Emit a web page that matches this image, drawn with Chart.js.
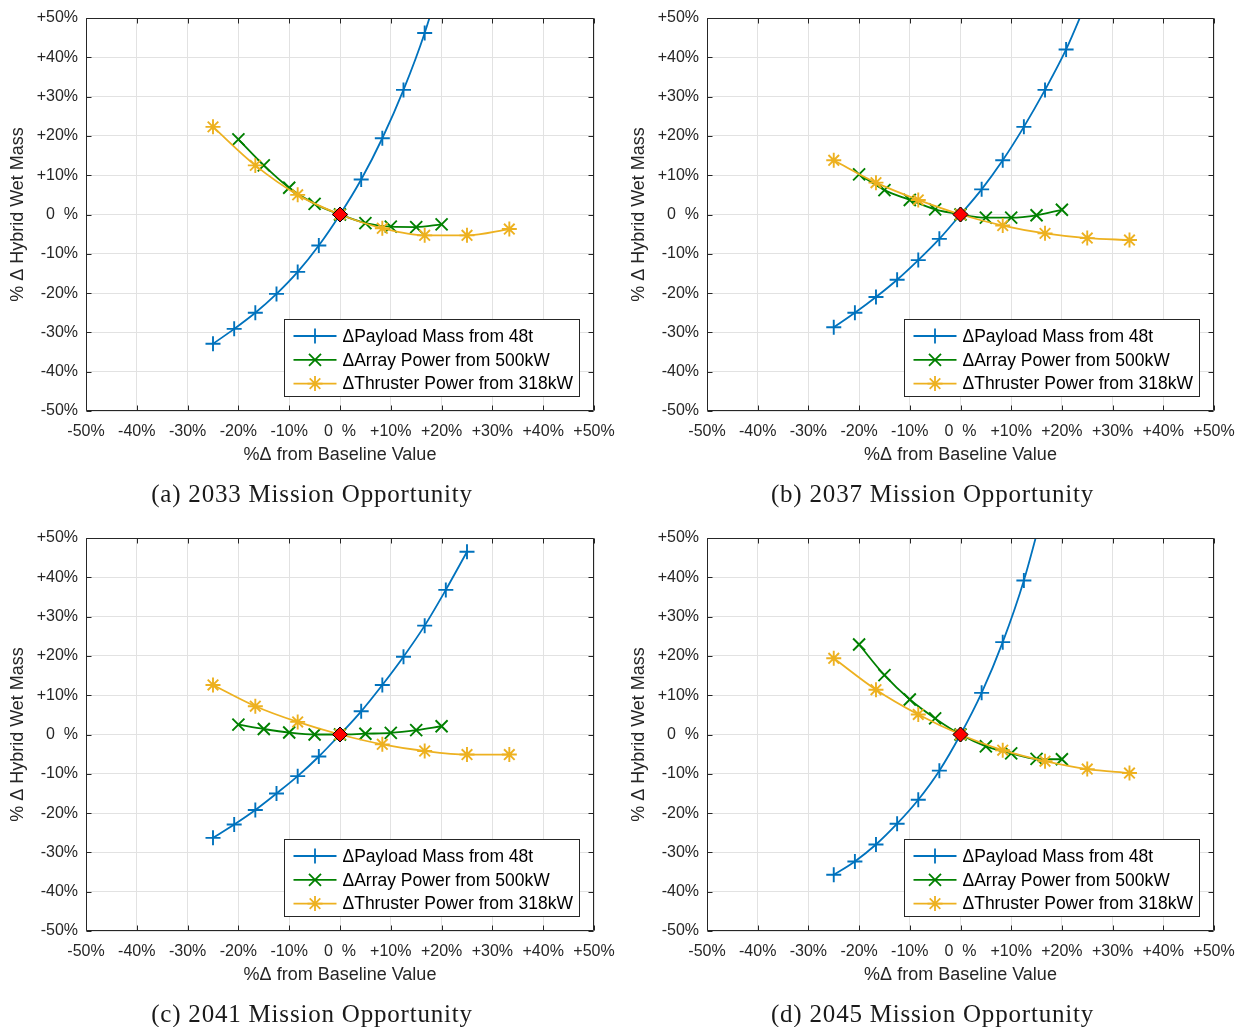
<!DOCTYPE html>
<html>
<head>
<meta charset="utf-8">
<script src="https://cdn.jsdelivr.net/npm/chart.js@4.4.1/dist/chart.umd.min.js"></script>
<style>
  html, body { margin: 0; padding: 0; background: #ffffff; }
  body { width: 1247px; height: 1027px; position: relative; overflow: hidden; }
  .panel { position: absolute; width: 623px; height: 520px; }
  .caption { position: absolute; width: 440px; text-align: center; font-family: 'Liberation Serif', 'Times New Roman', serif; font-size: 25px; letter-spacing: 0.8px; color: #1a1a1a; line-height: 28px; white-space: nowrap; }
</style>
</head>
<body>
<div class="panel" id="p0"><canvas id="c0" width="623" height="520"></canvas></div>
<div class="panel" id="p1"><canvas id="c1" width="623" height="520"></canvas></div>
<div class="panel" id="p2"><canvas id="c2" width="623" height="520"></canvas></div>
<div class="panel" id="p3"><canvas id="c3" width="623" height="520"></canvas></div>
<div class="caption" id="cap0"></div>
<div class="caption" id="cap1"></div>
<div class="caption" id="cap2"></div>
<div class="caption" id="cap3"></div>
<script>
// ---------------- DATA ----------------
const captions = ['(a) 2033 Mission Opportunity', '(b) 2037 Mission Opportunity',
                  '(c) 2041 Mission Opportunity', '(d) 2045 Mission Opportunity'];
const seriesLabels = ['\u0394Payload Mass from 48t', '\u0394Array Power from 500kW', '\u0394Thruster Power from 318kW'];
const xTitle = '%\u0394 from Baseline Value';
const yTitle = '% \u0394 Hybrid Wet Mass';
const xTickLabels = ['-50%', '-40%', '-30%', '-20%', '-10%', '0  %', '+10%', '+20%', '+30%', '+40%', '+50%'];
const yTickLabels = ['-50%', '-40%', '-30%', '-20%', '-10%', '0  %', '+10%', '+20%', '+30%', '+40%', '+50%'];

// x positions (% change from baseline)
const payloadX  = [-25, -20.83, -16.67, -12.5, -8.33, -4.17, 0, 4.17, 8.33, 12.5, 16.67, 20.83, 25];
const arrayX    = [-20, -15, -10, -5, 0, 5, 10, 15, 20];
const thrusterX = [-25, -16.67, -8.33, 0, 8.33, 16.67, 25, 33.33];

// (a) 2033
const payload2033  = [-32.9, -29.1, -25.0, -20.2, -14.6, -7.9, 0, 8.9, 19.4, 31.7, 46.2, 64.0];
const array2033    = [19.1, 12.5, 6.8, 2.7, 0, -2.2, -3.1, -3.2, -2.5];
const thruster2033 = [22.3, 12.5, 5.0, 0, -3.5, -5.3, -5.3, -3.7];
// (b) 2037
const payload2037  = [-28.7, -25.0, -21.0, -16.6, -11.6, -6.2, 0, 6.4, 13.8, 22.3, 31.7, 42.0, 54.5];
const array2037    = [10.2, 6.2, 3.7, 1.3, 0, -0.8, -0.8, -0.2, 1.2];
const thruster2037 = [13.8, 8.1, 3.7, 0, -2.8, -4.8, -6.0, -6.5];
// (c) 2041
const payload2041  = [-26.3, -22.9, -19.2, -15.0, -10.6, -5.6, 0, 5.9, 12.6, 19.8, 27.7, 36.8, 46.5];
const array2041    = [2.5, 1.4, 0.5, 0, 0, 0.2, 0.4, 1.1, 2.1];
const thruster2041 = [12.6, 7.2, 3.2, 0, -2.5, -4.2, -5.1, -5.1];
// (d) 2045
const payload2045  = [-35.7, -32.3, -28.0, -22.7, -16.6, -9.2, 0, 10.6, 23.5, 39.2, 59.0];
const array2045    = [22.9, 15.1, 8.9, 4.1, 0, -3.0, -4.8, -6.2, -6.3];
const thruster2045 = [19.4, 11.4, 5.1, 0, -4.0, -6.8, -8.8, -9.8];

const baselineX = [0];
const baselineY = [0];

const panelData = [
  [payload2033, array2033, thruster2033],
  [payload2037, array2037, thruster2037],
  [payload2041, array2041, thruster2041],
  [payload2045, array2045, thruster2045]
];

// ---------------- STYLE / LAYOUT ----------------
const COLORS = ['#0072BD', '#008000', '#EDB120'];
const STYLES = ['cross', 'crossRot', 'star'];
const RADII = [7.5, 8.5, 7.5];
const plotRects = [
  {l: 86, t: 18, r: 594, b: 411},
  {l: 707, t: 18, r: 1214, b: 411},
  {l: 86, t: 538, r: 594, b: 931},
  {l: 707, t: 538, r: 1214, b: 931}
];
const CW = 623, CH = 520, YAXW = 80, XAXH = 55;
const SANS = "'Liberation Sans', Arial, Helvetica, sans-serif";
const AXCOL = '#262626';

Chart.defaults.font.family = SANS;
Chart.defaults.color = AXCOL;

function pts(xs, ys) {
  const out = [];
  for (let i = 0; i < ys.length; i++) out.push({x: xs[i], y: ys[i]});
  return out;
}

function drawMarker(ctx, style, x, y, r) {
  ctx.beginPath();
  if (style === 'cross' || style === 'star') {
    ctx.moveTo(x - r, y); ctx.lineTo(x + r, y);
    ctx.moveTo(x, y - r); ctx.lineTo(x, y + r);
  }
  if (style === 'crossRot' || style === 'star') {
    const d = r * Math.SQRT1_2;
    ctx.moveTo(x - d, y - d); ctx.lineTo(x + d, y + d);
    ctx.moveTo(x - d, y + d); ctx.lineTo(x + d, y - d);
  }
  ctx.stroke();
}

const boxPlugin = {
  id: 'matlabBox',
  afterDraw(chart) {
    const {ctx, chartArea: a, scales} = chart;
    const xs = scales.x, ys = scales.y;
    ctx.save();
    ctx.strokeStyle = AXCOL;
    ctx.lineWidth = 1;
    const L = Math.round(a.left) + 0.5, R = Math.round(a.right) - 0.5;
    const T = Math.round(a.top) + 0.5, B = Math.round(a.bottom) - 0.5;
    ctx.beginPath();
    ctx.rect(L, T, R - L, B - T);
    const tl = 5;
    xs.ticks.forEach(t => {
      const p = Math.round(xs.getPixelForValue(t.value)) + 0.5;
      ctx.moveTo(p, B); ctx.lineTo(p, B - tl);
      ctx.moveTo(p, T); ctx.lineTo(p, T + tl);
    });
    ys.ticks.forEach(t => {
      const p = Math.round(ys.getPixelForValue(t.value)) + 0.5;
      ctx.moveTo(L, p); ctx.lineTo(L + tl, p);
      ctx.moveTo(R, p); ctx.lineTo(R - tl, p);
    });
    ctx.stroke();

    // legend (inside, lower right)
    const lw = 295, lh = 77;
    const bx = Math.round(a.right - 15 - lw) + 0.5;
    const by = Math.round(a.bottom - 15 - lh) + 0.5;
    ctx.fillStyle = '#ffffff';
    ctx.fillRect(bx, by, lw, lh);
    ctx.strokeStyle = AXCOL;
    ctx.strokeRect(bx, by, lw, lh);
    ctx.font = '17.5px ' + SANS;
    ctx.textBaseline = 'middle';
    ctx.textAlign = 'left';
    chart.data.datasets.forEach((ds) => {
      if (ds.legendRow === undefined) return;
      const row = ds.legendRow;
      const yy = by + 16.5 + row * 23.8;
      ctx.strokeStyle = ds.borderColor;
      ctx.lineWidth = 1.8;
      ctx.beginPath();
      ctx.moveTo(bx + 9, yy); ctx.lineTo(bx + 52, yy);
      ctx.stroke();
      drawMarker(ctx, ds.pointStyle, bx + 30.5, yy, ds.pointRadius);
      ctx.fillStyle = '#000000';
      ctx.fillText(ds.label, bx + 58, yy + 1);
    });
    ctx.restore();
  }
};

function makeChart(idx) {
  const rect = plotRects[idx];
  const cl = rect.l - YAXW - 6, ct = rect.t - 18;
  const panel = document.getElementById('p' + idx);
  panel.style.left = cl + 'px';
  panel.style.top = ct + 'px';
  const padding = {
    left: rect.l - cl - YAXW,
    top: rect.t - ct,
    right: cl + CW - rect.r,
    bottom: ct + CH - rect.b - XAXH
  };
  const series = panelData[idx];
  const xArrs = [payloadX, arrayX, thrusterX];
  const datasets = series.map((ys, i) => ({
    label: seriesLabels[i],
    legendRow: i,
    data: pts(xArrs[i], ys),
    borderColor: COLORS[i],
    backgroundColor: COLORS[i],
    borderWidth: 1.8,
    pointStyle: STYLES[i],
    pointRadius: RADII[i],
    pointBorderWidth: 1.9,
    pointBorderColor: COLORS[i],
    cubicInterpolationMode: 'monotone',
    fill: false,
    order: 4 - i
  }));
  datasets.push({
    label: 'Baseline',
    data: pts(baselineX, baselineY),
    showLine: false,
    pointStyle: 'rectRot',
    pointRadius: 7.5,
    pointBackgroundColor: '#ff0000',
    pointBorderColor: '#000000',
    pointBorderWidth: 1,
    order: 0
  });

  new Chart(document.getElementById('c' + idx), {
    type: 'line',
    data: {datasets},
    plugins: [boxPlugin],
    options: {
      responsive: false,
      animation: false,
      events: [],
      layout: {padding},
      plugins: {legend: {display: false}, tooltip: {enabled: false}, title: {display: false}},
      scales: {
        x: {
          type: 'linear', min: -50, max: 50,
          afterFit(s) { s.height = XAXH; s.paddingLeft = 0; s.paddingRight = 0; },
          ticks: {stepSize: 10, padding: 11, color: AXCOL, font: {size: 16}, maxRotation: 0, autoSkip: false,
                  callback: (v, i) => xTickLabels[i]},
          grid: {color: '#e2e2e2', lineWidth: 1, drawTicks: false},
          border: {display: false},
          title: {display: true, text: xTitle, color: AXCOL, font: {size: 18}, padding: {top: 0, bottom: 0}}
        },
        y: {
          type: 'linear', min: -50, max: 50,
          afterFit(s) { s.width = YAXW; s.paddingTop = 0; s.paddingBottom = 0; },
          ticks: {stepSize: 10, padding: 8, color: AXCOL, font: {size: 16}, autoSkip: false,
                  callback: (v, i) => yTickLabels[i]},
          grid: {color: '#e2e2e2', lineWidth: 1, drawTicks: false},
          border: {display: false},
          title: {display: true, text: yTitle, color: AXCOL, font: {size: 18}, padding: {top: 1, bottom: 0}}
        }
      }
    }
  });

  const cap = document.getElementById('cap' + idx);
  cap.textContent = captions[idx];
  const cx = rect.l + (rect.r - rect.l) / 2 - 28;
  cap.style.left = (cx - 220) + 'px';
  cap.style.top = (rect.b + 83 - 14) + 'px';
}

for (let i = 0; i < 4; i++) makeChart(i);
</script>
</body>
</html>
